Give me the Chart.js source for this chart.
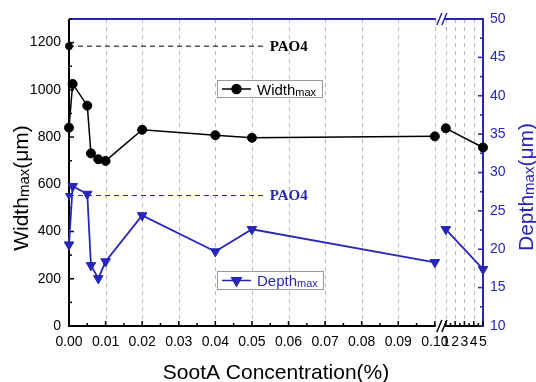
<!DOCTYPE html>
<html>
<head>
<meta charset="utf-8">
<script src="https://cdn.jsdelivr.net/npm/chart.js@4.4.1/dist/chart.umd.min.js"></script>
<style>
  html, body { margin: 0; padding: 0; background: #fff; }
</style>
</head>
<body>
<canvas id="chart" width="536" height="382"></canvas>
<script>
// --- data ---
const concentrations = [0, 0.001, 0.005, 0.006, 0.008, 0.01, 0.02, 0.04, 0.05, 0.10, 1, 5];
const widthMax = [840, 1025, 933, 731, 706, 699, 831, 808, 797, 803, 837, 756];
const depthMax = [20.6, 28.2, 27.2, 17.9, 16.2, 18.4, 24.4, 19.7, 22.6, 18.3, 22.6, 17.4];

// PAO4 reference levels (dashed lines)
const pao4Width = 1185;
const pao4Depth = 27;
const pao4Span = [0, 0.0535];

const xTickValues = [0, 0.01, 0.02, 0.03, 0.04, 0.05, 0.06, 0.07, 0.08, 0.09, 0.10, 1, 2, 3, 4, 5];
const xTickLabels = ['0.00', '0.01', '0.02', '0.03', '0.04', '0.05', '0.06', '0.07', '0.08', '0.09', '0.10', '1', '2', '3', '4', '5'];
const widthTicks = [0, 200, 400, 600, 800, 1000, 1200];
const depthTicks = [10, 15, 20, 25, 30, 35, 40, 45, 50];

const BLUE = '#2626b8';
const FONT = '"Liberation Sans", Arial, sans-serif';

// broken x axis: 0..0.10 linear, then 1..5 squeezed after the break
const BREAK_AT = 0.10, GAP = 0.3, STEP = 0.254;
function axisPos(c) {
    if (c <= BREAK_AT) return c * 100;
    return BREAK_AT * 100 + GAP + (c - 1) * STEP;
}
const breakMid = BREAK_AT * 100 + GAP / 2;

const pts = (xs, ys) => xs.map((c, i) => ({ x: axisPos(c), y: ys[i] }));

// hide the line segment that crosses the axis break
const breakSegment = color => ({
    borderColor: ctx => (ctx.p0.parsed.x < breakMid && ctx.p1.parsed.x > breakMid) ? 'rgba(0,0,0,0)' : color
});

function drawSub(ctx, parts, x, y, color) {
    // parts: [text, size, dy]
    let total = 0;
    parts.forEach(p => { ctx.font = p[1] + 'px ' + FONT; total += ctx.measureText(p[0]).width; });
    let cx = x - total / 2;
    ctx.fillStyle = color;
    ctx.textAlign = 'left';
    ctx.textBaseline = 'alphabetic';
    parts.forEach(p => {
        ctx.font = p[1] + 'px ' + FONT;
        ctx.fillText(p[0], cx, y + p[2]);
        cx += ctx.measureText(p[0]).width;
    });
}

function legendBox(ctx, x, y, w, h, color, style, name) {
    ctx.save();
    ctx.fillStyle = '#fff';
    ctx.fillRect(x, y, w, h);
    ctx.strokeStyle = '#9a9a9a';
    ctx.lineWidth = 1;
    ctx.strokeRect(x + 0.5, y + 0.5, w, h);
    const my = y + h / 2 + 0.5;
    ctx.strokeStyle = color;
    ctx.lineWidth = 1.5;
    ctx.beginPath(); ctx.moveTo(x + 5, my); ctx.lineTo(x + 34, my); ctx.stroke();
    ctx.fillStyle = color;
    Chart.helpers.drawPoint(ctx, style, x + 19.5, my);
    ctx.textAlign = 'left';
    ctx.textBaseline = 'alphabetic';
    ctx.font = '15px ' + FONT;
    ctx.fillText(name, x + 40, my + 5.5);
    const nw = ctx.measureText(name).width;
    ctx.font = '11px ' + FONT;
    ctx.fillText('max', x + 40 + nw, my + 6.5);
    ctx.restore();
}

const decorations = {
    id: 'decorations',
    beforeDatasetsDraw(chart) {
        const { ctx, chartArea: a, scales } = chart;
        const x = scales.x, yW = scales.yW, yD = scales.yD;
        const bx0 = x.getPixelForValue(axisPos(BREAK_AT)) + 1;
        const bx1 = x.getPixelForValue(axisPos(1)) - 1;
        ctx.save();

        // vertical dashed grid
        ctx.strokeStyle = '#b8b8b8';
        ctx.lineWidth = 1;
        ctx.setLineDash([4, 4]);
        xTickValues.forEach(v => {
            if (v === 0 || v === 5) return;
            const px = Math.round(x.getPixelForValue(axisPos(v))) + 0.5;
            ctx.beginPath(); ctx.moveTo(px, a.top); ctx.lineTo(px, a.bottom); ctx.stroke();
        });
        ctx.setLineDash([]);

        // axis lines
        ctx.lineWidth = 2;
        ctx.strokeStyle = '#000';
        ctx.beginPath(); ctx.moveTo(a.left, a.top); ctx.lineTo(a.left, a.bottom + 1); ctx.stroke();
        ctx.beginPath(); ctx.moveTo(a.left - 1, a.bottom); ctx.lineTo(bx0, a.bottom);
        ctx.moveTo(bx1, a.bottom); ctx.lineTo(a.right, a.bottom); ctx.stroke();
        ctx.strokeStyle = BLUE;
        ctx.beginPath(); ctx.moveTo(a.right, a.top - 1); ctx.lineTo(a.right, a.bottom + 1); ctx.stroke();
        ctx.beginPath(); ctx.moveTo(a.left, a.top); ctx.lineTo(bx0, a.top);
        ctx.moveTo(bx1, a.top); ctx.lineTo(a.right, a.top); ctx.stroke();

        // inward ticks
        ctx.lineWidth = 1.5;
        ctx.strokeStyle = '#000';
        const major = 5, minor = 3;
        widthTicks.forEach((v, i) => {
            const py = yW.getPixelForValue(v);
            ctx.beginPath(); ctx.moveTo(a.left, py); ctx.lineTo(a.left + major, py); ctx.stroke();
            const pm = yW.getPixelForValue(v + 100);
            ctx.beginPath(); ctx.moveTo(a.left, pm); ctx.lineTo(a.left + minor, pm); ctx.stroke();
        });
        xTickValues.forEach((v, i) => {
            const px = x.getPixelForValue(axisPos(v));
            ctx.beginPath(); ctx.moveTo(px, a.bottom); ctx.lineTo(px, a.bottom - major); ctx.stroke();
            const next = xTickValues[i + 1];
            if (next !== undefined && v !== BREAK_AT) {
                const pm = x.getPixelForValue(axisPos((v + next) / 2));
                ctx.beginPath(); ctx.moveTo(pm, a.bottom); ctx.lineTo(pm, a.bottom - minor); ctx.stroke();
            }
        });
        ctx.strokeStyle = BLUE;
        depthTicks.forEach((v, i) => {
            const py = yD.getPixelForValue(v);
            ctx.beginPath(); ctx.moveTo(a.right, py); ctx.lineTo(a.right - major, py); ctx.stroke();
            if (i < depthTicks.length - 1) {
                const pm = yD.getPixelForValue(v + 2.5);
                ctx.beginPath(); ctx.moveTo(a.right, pm); ctx.lineTo(a.right - minor, pm); ctx.stroke();
            }
        });

        // break marks
        ctx.lineWidth = 1.5;
        [[a.bottom, '#000'], [a.top, BLUE]].forEach(([yy, col]) => {
            ctx.strokeStyle = col;
            [bx0 + 1, bx0 + 6].forEach(sx => {
                ctx.beginPath(); ctx.moveTo(sx, yy + 6); ctx.lineTo(sx + 5, yy - 6); ctx.stroke();
            });
        });
        ctx.restore();
    },
    afterDraw(chart) {
        const { ctx, chartArea: a, scales } = chart;
        const x = scales.x, yW = scales.yW, yD = scales.yD;
        ctx.save();

        // PAO4 labels
        ctx.font = 'bold 15px "Liberation Serif", "Times New Roman", serif';
        ctx.textAlign = 'left';
        ctx.textBaseline = 'middle';
        const lx = x.getPixelForValue(axisPos(pao4Span[1])) + 5;
        ctx.fillStyle = '#000';
        ctx.fillText('PAO4', lx, yW.getPixelForValue(pao4Width) + 1);
        ctx.fillStyle = BLUE;
        ctx.fillText('PAO4', lx, yD.getPixelForValue(pao4Depth) + 1);

        // legends
        legendBox(ctx, 217, 80, 105, 17, '#000', { pointStyle: 'circle', radius: 4.5, borderWidth: 1, rotation: 0 }, 'Width');
        legendBox(ctx, 217, 271, 106, 18, BLUE, { pointStyle: 'triangle', radius: 5.5, borderWidth: 1, rotation: 180 }, 'Depth');

        // axis titles
        drawSub(ctx, [['SootA Concentration(%)', 21, 0]], (a.left + a.right) / 2, 379, '#000');
        ctx.save();
        ctx.translate(28, 188);
        ctx.rotate(-Math.PI / 2);
        drawSub(ctx, [['Width', 21, 0], ['max', 15, 1], ['(\u03bcm)', 21, 0]], 0, 0, '#000');
        ctx.restore();
        ctx.save();
        ctx.translate(533, 187);
        ctx.rotate(-Math.PI / 2);
        drawSub(ctx, [['Depth', 21, 0], ['max', 15, 1], ['(\u03bcm)', 21, 0]], 0, 0, BLUE);
        ctx.restore();
        ctx.restore();
    }
};

new Chart(document.getElementById('chart'), {
    type: 'line',
    data: {
        datasets: [
            {
                label: 'Width',
                data: pts(concentrations, widthMax),
                yAxisID: 'yW',
                borderColor: '#000',
                backgroundColor: '#000',
                borderWidth: 1.5,
                pointStyle: 'circle',
                pointRadius: 4.5,
                pointBorderWidth: 1,
                segment: breakSegment('#000'),
                clip: false
            },
            {
                label: 'Depth',
                data: pts(concentrations, depthMax),
                yAxisID: 'yD',
                borderColor: BLUE,
                backgroundColor: BLUE,
                borderWidth: 1.8,
                pointStyle: 'triangle',
                rotation: 180,
                pointRadius: 5.5,
                pointBorderWidth: 1,
                segment: breakSegment(BLUE),
                clip: false
            },
            {
                label: 'PAO4 width',
                data: pts(pao4Span, [pao4Width, pao4Width]),
                yAxisID: 'yW',
                borderColor: '#000',
                backgroundColor: '#000',
                borderWidth: 1,
                borderDash: [5, 4],
                pointRadius: [3.5, 0],
                clip: false
            },
            {
                label: 'PAO4 depth',
                data: pts(pao4Span, [pao4Depth, pao4Depth]),
                yAxisID: 'yD',
                borderColor: BLUE,
                backgroundColor: BLUE,
                borderWidth: 1,
                borderDash: [5, 4],
                pointStyle: 'triangle',
                rotation: 180,
                pointRadius: [4, 0],
                clip: false
            }
        ]
    },
    options: {
        responsive: false,
        devicePixelRatio: 1,
        animation: false,
        events: [],
        layout: { padding: { top: 19, left: 0, right: 0, bottom: 0 } },
        plugins: { legend: { display: false }, tooltip: { enabled: false } },
        scales: {
            x: {
                type: 'linear',
                min: 0,
                max: axisPos(5),
                grid: { display: false, drawTicks: false },
                border: { display: false },
                afterBuildTicks: s => { s.ticks = xTickValues.map(v => ({ value: axisPos(v) })); },
                afterFit: s => { s.height = 56; },
                ticks: {
                    autoSkip: false,
                    maxRotation: 0,
                    padding: 8,
                    color: '#000',
                    font: { family: FONT, size: 14 },
                    callback: (v, i) => xTickLabels[i]
                }
            },
            yW: {
                type: 'linear',
                position: 'left',
                min: 0,
                max: 1300,
                grid: { display: false, drawTicks: false },
                border: { display: false },
                afterBuildTicks: s => { s.ticks = widthTicks.map(v => ({ value: v })); },
                afterFit: s => { s.width = 69; },
                ticks: { padding: 8, color: '#000', font: { family: FONT, size: 14 }, callback: v => String(v) }
            },
            yD: {
                type: 'linear',
                position: 'right',
                min: 10,
                max: 50,
                grid: { display: false, drawTicks: false },
                border: { display: false },
                afterBuildTicks: s => { s.ticks = depthTicks.map(v => ({ value: v })); },
                afterFit: s => { s.width = 53; },
                ticks: { padding: 7, color: BLUE, font: { family: FONT, size: 14 }, callback: v => String(v) }
            }
        }
    },
    plugins: [decorations]
});
</script>
</body>
</html>
